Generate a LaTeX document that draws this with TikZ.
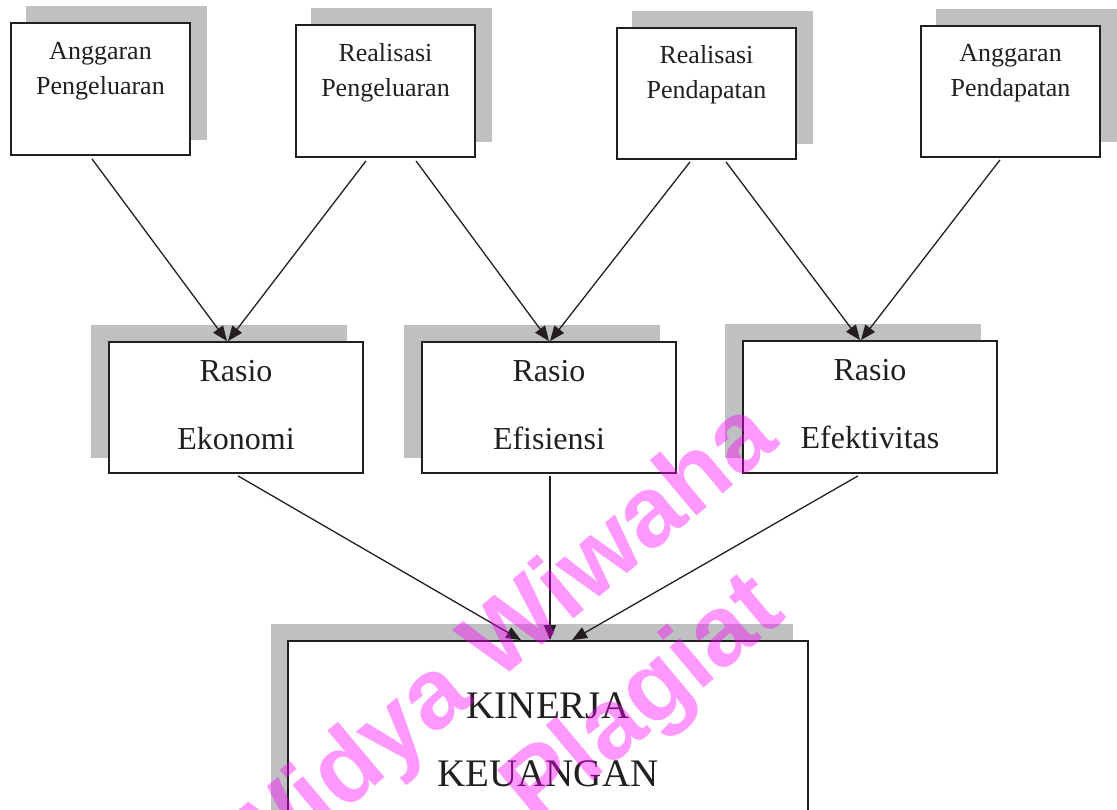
\documentclass[tikz,border=0pt]{standalone}
\usepackage{fontspec}
\setmainfont{Liberation Serif}
\newfontfamily\wmfont{Liberation Sans}
\usetikzlibrary{arrows.meta}
\definecolor{shadowgray}{RGB}{191,192,194}
\definecolor{inkcol}{RGB}{35,31,32}
\definecolor{wmcol}{RGB}{255,0,255}
\pgfdeclarelayer{bg}
\pgfsetlayers{bg,main}
\begin{document}
\begin{tikzpicture}[x=1pt,y=-1pt,
  box/.style={draw=inkcol, line width=1.8pt, fill=white, inner sep=0pt},
  topbox/.style={box, minimum width=179pt, minimum height=132pt},
  midbox/.style={box, minimum width=254pt, minimum height=131pt},
  botbox/.style={box, minimum width=520pt, minimum height=200pt},
  shade/.style={fill=shadowgray},
  arr/.style={draw=inkcol, line width=1.3pt, -{Triangle[length=15pt,width=12pt]}},
  ttext/.style={anchor=base, inner sep=0pt, text=inkcol, font=\fontsize{26}{30}\selectfont},
  mtext/.style={anchor=base, inner sep=0pt, text=inkcol, font=\fontsize{32}{36}\selectfont},
  btext/.style={anchor=base, inner sep=0pt, text=inkcol, font=\fontsize{39}{44}\selectfont},
  wm/.style={anchor=base east, inner sep=0pt, rotate=40, text=wmcol, opacity=0.4,
    font=\wmfont\bfseries\fontsize{100}{110}\selectfont}
]
\useasboundingbox (0,0) rectangle (1117,810);

% top boxes
\node[topbox] (b1) at (100.5,89) {};
\node[topbox] (b2) at (385.5,91) {};
\node[topbox, minimum height=131pt] (b3) at (706.5,93.5) {};
\node[topbox, minimum height=131pt] (b4) at (1010.5,91.5) {};
% middle boxes
\node[midbox] (b5) at (236,407.5) {};
\node[midbox] (b6) at (549,407.5) {};
\node[midbox, minimum height=132pt] (b7) at (870,407) {};
% bottom box
\node[botbox] (b8) at (548,741) {};

\begin{pgfonlayer}{bg}
  \foreach \n in {b1,b2,b3,b4}
    \fill[shade] ([shift={(16,-16)}]\n.south west) rectangle ([shift={(16,-16)}]\n.north east);
  \foreach \n in {b5,b6,b7}
    \fill[shade] ([shift={(-17,-16)}]\n.south west) rectangle ([shift={(-17,-16)}]\n.north east);
  \fill[shade] ([shift={(-16,-16)}]b8.south west) rectangle ([shift={(-16,-16)}]b8.north east);
\end{pgfonlayer}

% texts
\node[ttext] (t1a) at ([shift={(0,37)}]b1.north) {Anggaran};
\node[ttext] (t1b) at ([shift={(0,72)}]b1.north) {Pengeluaran};
\node[ttext] (t2a) at ([shift={(0,37)}]b2.north) {Realisasi};
\node[ttext] (t2b) at ([shift={(0,72)}]b2.north) {Pengeluaran};
\node[ttext] (t3a) at ([shift={(0,36)}]b3.north) {Realisasi};
\node[ttext] (t3b) at ([shift={(0,71)}]b3.north) {Pendapatan};
\node[ttext] (t4a) at ([shift={(0,36)}]b4.north) {Anggaran};
\node[ttext] (t4b) at ([shift={(0,71)}]b4.north) {Pendapatan};
\node[mtext] (t5a) at ([shift={(0,40)}]b5.north) {Rasio};
\node[mtext] (t5b) at ([shift={(0,108)}]b5.north) {Ekonomi};
\node[mtext] (t6a) at ([shift={(0,40)}]b6.north) {Rasio};
\node[mtext] (t6b) at ([shift={(0,108)}]b6.north) {Efisiensi};
\node[mtext] (t7a) at ([shift={(0,40)}]b7.north) {Rasio};
\node[mtext] (t7b) at ([shift={(0,108)}]b7.north) {Efektivitas};
\node[btext] (t8a) at ([shift={(0,78)}]b8.north) {KINERJA};
\node[btext] (t8b) at ([shift={(0,146)}]b8.north) {KEUANGAN};

% arrows
\draw[arr] ([shift={(-8.5,3)}]b1.south) -- ([xshift=-9]b5.north);
\draw[arr] ([shift={(-19.5,3)}]b2.south) -- ([xshift=-8]b5.north);
\draw[arr] ([shift={(30.5,3)}]b2.south) -- ([xshift=0]b6.north);
\draw[arr] ([shift={(-16.5,2)}]b3.south) -- ([xshift=1]b6.north);
\draw[arr] ([shift={(19.5,2)}]b3.south) -- ([xshift=-10]b7.north);
\draw[arr] ([shift={(-10.5,2)}]b4.south) -- ([xshift=-9]b7.north);
\draw[arr] ([shift={(2,2)}]b5.south) -- ([xshift=-27]b8.north);
\draw[arr] ([shift={(1,2)}]b6.south) -- ([xshift=2]b8.north);
\draw[arr] ([shift={(-12,2)}]b7.south) -- ([xshift=24]b8.north);

% watermark
\node[wm] (wm1) at (781,445) {Widya Wiwaha};
\node[wm] (wm2) at (788,617) {Jangan Plagiat};
\end{tikzpicture}
\end{document}
